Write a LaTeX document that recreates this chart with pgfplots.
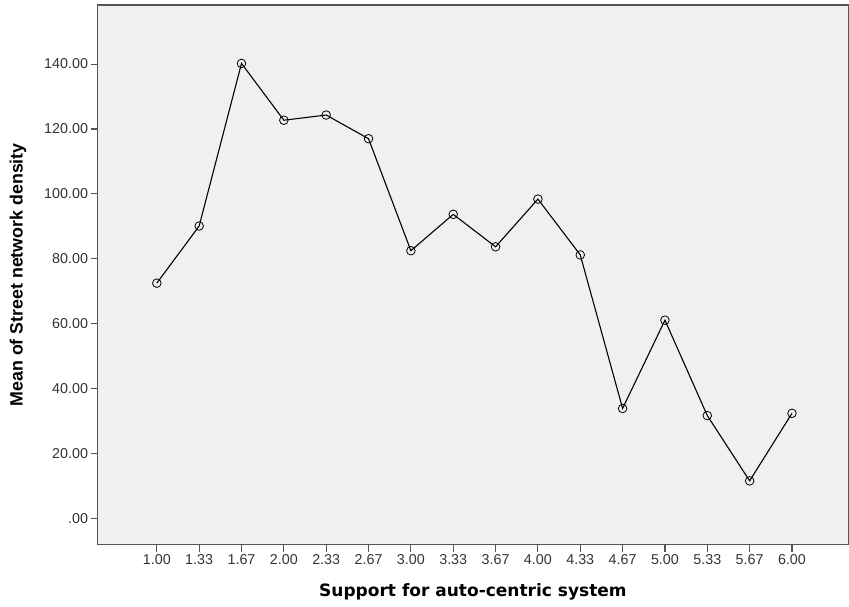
\documentclass[border=0pt]{standalone}
\usepackage{pgfplots}
\pgfplotsset{compat=1.18}
\usepackage{fontspec}
\setmainfont{Liberation Sans}
\newfontfamily\dejab{DejaVu Sans}[BoldFont={DejaVu Sans Bold}]
\definecolor{bgc}{HTML}{F0F0F0}
\definecolor{axc}{HTML}{555555}
\definecolor{tlc}{HTML}{333333}
\begin{document}
\begin{tikzpicture}
\begin{axis}[
  scale only axis,
  width=750.5pt, height=539.5pt,
  xmin=-1.40, xmax=16.33,
  ymin=-8.07, ymax=158.2,
  axis background/.style={fill=bgc},
  axis line style={draw=axc, line width=1.1pt},
  tick pos=left,
  tick align=outside,
  major tick length=7pt,
  tick style={draw=axc, line width=1.1pt},
  xtick={0,1,2,3,4,5,6,7,8,9,10,11,12,13,14,15},
  xticklabels={1.00,1.33,1.67,2.00,2.33,2.67,3.00,3.33,3.67,4.00,4.33,4.67,5.00,5.33,5.67,6.00},
  ytick={0,20,40,60,80,100,120,140},
  yticklabels={.00,20.00,40.00,60.00,80.00,100.00,120.00,140.00},
  ticklabel style={font=\fontsize{14.3}{16}\selectfont, text=tlc},
  yticklabel style={xshift=1pt},
  xticklabel style={yshift=1pt},
  xlabel={Support for auto-centric system},
  ylabel={Mean of Street network density},
  xlabel style={font=\dejab\fontsize{17}{19}\selectfont\bfseries, at={(axis description cs:0.5,-0.0875)}, anchor=center},
  ylabel style={font=\fontsize{17.8}{19}\selectfont\bfseries, at={(axis description cs:-0.106,0.5)}, anchor=center},
  clip=false,
]
\addplot[black, line width=1.1pt, mark=o, mark size=4.3pt, mark options={line width=0.8pt, fill=none}]
coordinates {
(0,72.5) (1,90.1) (2,140.2) (3,122.7) (4,124.3) (5,117.0) (6,82.5) (7,93.7)
(8,83.7) (9,98.4) (10,81.2) (11,33.9) (12,61.1) (13,31.7) (14,11.6) (15,32.4)
};
\coordinate (bl) at (rel axis cs:0,0);
\coordinate (tr) at (rel axis cs:1,1);
\end{axis}
\pgfresetboundingbox
\path[use as bounding box] ([xshift=-97.5pt,yshift=-61.5pt]bl) rectangle ([xshift=0.7pt,yshift=5pt]tr);
\end{tikzpicture}
\end{document}
